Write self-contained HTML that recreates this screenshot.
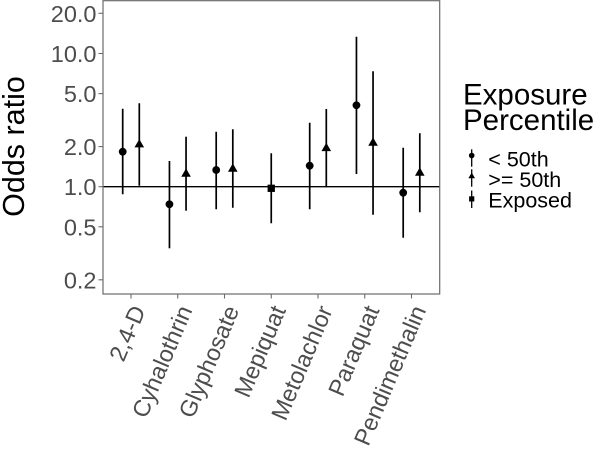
<!DOCTYPE html>
<html>
<head>
<meta charset="utf-8">
<style>
  html, body { margin: 0; padding: 0; background: #ffffff; }
  svg { display: block; }
  text { font-family: "Liberation Sans", Arial, sans-serif; }
</style>
</head>
<body>
<svg width="600" height="453" viewBox="0 0 600 453" xmlns="http://www.w3.org/2000/svg">
  <rect x="0" y="0" width="600" height="453" fill="#ffffff"/>

  <!-- reference line at 1.0 -->
  <line x1="103" y1="186.7" x2="440" y2="186.7" stroke="#000" stroke-width="1.4"/>

  <!-- error bars -->
  <g stroke="#000" stroke-width="1.7">
    <line x1="122.7" y1="108.7" x2="122.7" y2="194.3"/>
    <line x1="139.3" y1="103.3" x2="139.3" y2="185.7"/>
    <line x1="169.45" y1="161" x2="169.45" y2="248.3"/>
    <line x1="186.05" y1="136.7" x2="186.05" y2="210.7"/>
    <line x1="216.2" y1="131.7" x2="216.2" y2="209.3"/>
    <line x1="232.8" y1="129.3" x2="232.8" y2="207.7"/>
    <line x1="271.25" y1="153.3" x2="271.25" y2="223.3"/>
    <line x1="309.7" y1="122.7" x2="309.7" y2="209.3"/>
    <line x1="326.3" y1="109" x2="326.3" y2="187.3"/>
    <line x1="356.45" y1="36.7" x2="356.45" y2="174"/>
    <line x1="373.05" y1="71.3" x2="373.05" y2="214.7"/>
    <line x1="403.2" y1="147.7" x2="403.2" y2="237.7"/>
    <line x1="419.8" y1="133.3" x2="419.8" y2="212.3"/>
  </g>

  <!-- points -->
  <g fill="#000">
    <circle cx="122.7" cy="151.7" r="3.9"/>
    <polygon points="139.3,139.1 144.1,147.4 134.5,147.4"/>
    <circle cx="169.45" cy="204.3" r="3.9"/>
    <polygon points="186.05,168.4 190.85,176.7 181.25,176.7"/>
    <circle cx="216.2" cy="170" r="3.9"/>
    <polygon points="232.8,163.4 237.6,171.7 228,171.7"/>
    <rect x="267.6" y="184.65" width="7.3" height="7.3"/>
    <circle cx="309.7" cy="165.7" r="3.9"/>
    <polygon points="326.3,142.8 331.1,151.1 321.5,151.1"/>
    <circle cx="356.45" cy="105.3" r="3.9"/>
    <polygon points="373.05,137.4 377.85,145.7 368.25,145.7"/>
    <circle cx="403.2" cy="192.7" r="3.9"/>
    <polygon points="419.8,167.4 424.6,175.7 415,175.7"/>
  </g>

  <!-- panel border -->
  <rect x="103" y="0.7" width="336.7" height="293.3" fill="none" stroke="#6b6b6b" stroke-width="1.2"/>

  <!-- y ticks -->
  <g stroke="#6b6b6b" stroke-width="1.1">
    <line x1="98.5" y1="13.3" x2="103" y2="13.3"/>
    <line x1="98.5" y1="53.5" x2="103" y2="53.5"/>
    <line x1="98.5" y1="93.6" x2="103" y2="93.6"/>
    <line x1="98.5" y1="146.6" x2="103" y2="146.6"/>
    <line x1="98.5" y1="186.7" x2="103" y2="186.7"/>
    <line x1="98.5" y1="226.8" x2="103" y2="226.8"/>
    <line x1="98.5" y1="279.8" x2="103" y2="279.8"/>
  </g>
  <g fill="#4d4d4d" font-size="23.5" text-anchor="end">
    <text x="96.5" y="21.8">20.0</text>
    <text x="96.5" y="62">10.0</text>
    <text x="96.5" y="102.1">5.0</text>
    <text x="96.5" y="155.1">2.0</text>
    <text x="96.5" y="195.2">1.0</text>
    <text x="96.5" y="235.3">0.5</text>
    <text x="96.5" y="288.3">0.2</text>
  </g>

  <!-- x ticks -->
  <g stroke="#6b6b6b" stroke-width="1.1">
    <line x1="131" y1="294" x2="131" y2="298.5"/>
    <line x1="177.75" y1="294" x2="177.75" y2="298.5"/>
    <line x1="224.5" y1="294" x2="224.5" y2="298.5"/>
    <line x1="271.25" y1="294" x2="271.25" y2="298.5"/>
    <line x1="318" y1="294" x2="318" y2="298.5"/>
    <line x1="364.75" y1="294" x2="364.75" y2="298.5"/>
    <line x1="411.5" y1="294" x2="411.5" y2="298.5"/>
  </g>
  <g fill="#4d4d4d" font-size="23.5" text-anchor="end">
    <text transform="translate(146,310) rotate(-67)">2,4-D</text>
    <text transform="translate(192.75,310) rotate(-67)">Cyhalothrin</text>
    <text transform="translate(239.5,310) rotate(-67)">Glyphosate</text>
    <text transform="translate(286.25,310) rotate(-67)">Mepiquat</text>
    <text transform="translate(333,310) rotate(-67)">Metolachlor</text>
    <text transform="translate(379.75,310) rotate(-67)">Paraquat</text>
    <text transform="translate(426.5,310) rotate(-67)">Pendimethalin</text>
  </g>

  <!-- y axis title -->
  <text transform="translate(24,146.5) rotate(-90)" font-size="30.5" text-anchor="middle" fill="#000">Odds ratio</text>

  <!-- legend -->
  <g fill="#000">
    <text x="463" y="104.3" font-size="29.5">Exposure</text>
    <text x="463" y="130" font-size="29.5">Percentile</text>

    <g stroke="#000" stroke-width="1.3">
      <line x1="471.7" y1="149.3" x2="471.7" y2="166.7"/>
      <line x1="471.7" y1="169.3" x2="471.7" y2="186.7"/>
      <line x1="471.7" y1="190.5" x2="471.7" y2="208"/>
    </g>
    <circle cx="471.7" cy="155.5" r="2.8"/>
    <polygon points="471.7,172.5 475,178.2 468.4,178.2"/>
    <rect x="469.1" y="196.3" width="5.2" height="5.2"/>

    <text x="488.3" y="166.5" font-size="21.5">&lt; 50th</text>
    <text x="488.3" y="187" font-size="21.5">&gt;= 50th</text>
    <text x="488.3" y="207.5" font-size="21.5">Exposed</text>
  </g>
</svg>
</body>
</html>
